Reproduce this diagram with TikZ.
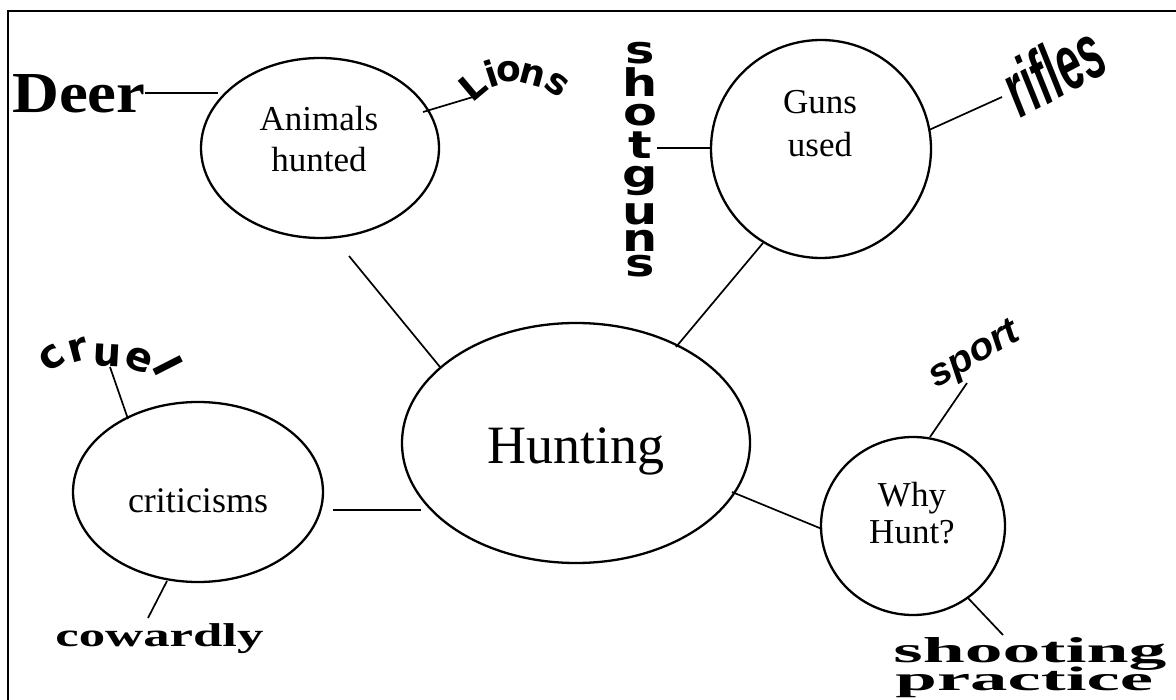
\documentclass[tikz,border=0pt]{standalone}
\usepackage{fontspec}
\setmainfont{Liberation Serif}
\newfontfamily\wa{Liberation Sans}
\newfontfamily\djvsans{DejaVu Sans}
\usetikzlibrary{shapes.geometric}
\tikzset{
  conn/.style={line width=1.7pt},
  bub/.style={draw, ellipse, line width=2.3pt, inner sep=0pt},
  lbl/.style={inner sep=0pt, anchor=base, font=\fontsize{35}{40}\selectfont},
  heavy/.style={inner sep=0pt, font=\djvsans\bfseries\fontsize{36}{40}\selectfont},
  shot/.style={inner sep=0pt, xscale=1.3, font=\djvsans\bfseries\fontsize{38}{40}\selectfont},
  wide/.style={inner sep=0pt, anchor=base west, font=\bfseries\fontsize{36}{40}\selectfont}
}
\begin{document}
\begin{tikzpicture}[x=1pt,y=-1pt]
\useasboundingbox (0,0) rectangle (1176,700);
\clip (0,0) rectangle (1176,700);
\fill[white] (0,0) rectangle (1176,700);
\draw[line width=1.5pt] (8,11) rectangle (1200,720);

% bubbles
\node[bub, minimum width=238, minimum height=180] (anim) at (320,148) {};
\node[bub, minimum width=220, minimum height=218] (guns) at (821,149) {};
\node[bub, minimum width=348, minimum height=240] (hunt) at (576,443) {};
\node[bub, minimum width=250, minimum height=180] (crit) at (198,492) {};
\node[bub, minimum width=184, minimum height=178] (why) at (913,526) {};

% bubble texts
\node[lbl] (animA) at (319,131) {Animals};
\node[lbl] (animB) at (319,172) {hunted};
\node[lbl] (gunsA) at (820,114) {Guns};
\node[lbl] (gunsB) at (820,157) {used};
\node[lbl, font=\fontsize{54}{60}\selectfont] (huntT) at (576,464) {Hunting};
\node[lbl, font=\fontsize{36}{40}\selectfont] (critT) at (198,512) {criticisms};
\node[lbl] (whyA) at (912,507) {Why};
\node[lbl] (whyB) at (912,543) {Hunt?};

% word-art labels
\node[inner sep=0pt, anchor=base west, xscale=1.12, font=\bfseries\fontsize{58}{60}\selectfont] (deer) at (12,113) {Deer};

\node[heavy, rotate=40] (lionL) at (473,86) {L};
\node[heavy, rotate=18] (lionI) at (491,74) {i};
\node[heavy, rotate=0] (lionO) at (509,72) {o};
\node[heavy, rotate=-15] (lionN) at (532,75) {n};
\node[heavy, rotate=-35] (lionS) at (557,85) {s};

\node[shot] (sg1) at (640,53) {s};
\node[shot] (sg2) at (640,82) {h};
\node[shot] (sg3) at (640,115) {o};
\node[shot] (sg4) at (640,145) {t};
\node[shot] (sg5) at (640,181) {g};
\node[shot] (sg6) at (640,214) {u};
\node[shot] (sg7) at (640,241) {n};
\node[shot] (sg8) at (640,266) {s};

\node[inner sep=0pt, rotate=28, xscale=0.55, font=\wa\bfseries\itshape\fontsize{78}{80}\selectfont] (rifles) at (1053,70) {rifles};
\node[inner sep=0pt, rotate=30, xscale=1.05, font=\wa\bfseries\itshape\fontsize{38}{40}\selectfont] (sport) at (975,356) {sport};

\node[heavy, rotate=35, font=\djvsans\bfseries\fontsize{40}{40}\selectfont] (cr1) at (52,358) {c};
\node[heavy, rotate=15, font=\djvsans\bfseries\fontsize{40}{40}\selectfont] (cr2) at (78,350) {r};
\node[heavy, rotate=-3, font=\djvsans\bfseries\fontsize{40}{40}\selectfont] (cr3) at (107,356) {u};
\node[heavy, rotate=-20, font=\djvsans\bfseries\fontsize{40}{40}\selectfont] (cr4) at (139,360) {e};
\node[heavy, rotate=-63, font=\djvsans\bfseries\fontsize{40}{40}\selectfont] (cr5) at (168,366) {l};

\node[inner sep=0pt, anchor=base west, xscale=1.6, font=\bfseries\fontsize{33}{36}\selectfont] (coward) at (55,646) {cowardly};
\node[wide, xscale=2.1] (shoot) at (893,662) {shooting};
\node[wide, xscale=2.2, font=\bfseries\fontsize{34}{36}\selectfont] (pract) at (895,690) {practice};

% connector ends
\coordinate (deerE) at (145,93);   \coordinate (animW) at (218,93);
\coordinate (animNE) at (423,112); \coordinate (lionE) at (473,97);
\coordinate (shotE) at (657,148);  \coordinate (gunsW) at (711,148);
\coordinate (gunsE) at (929,130);  \coordinate (rifE) at (1002,97);
\coordinate (gunsS) at (763,243);  \coordinate (huntNE) at (676,347);
\coordinate (animS) at (349,256);  \coordinate (huntNW) at (440,367);
\coordinate (critE) at (333,510);  \coordinate (huntW) at (421,510);
\coordinate (huntSE) at (732,492); \coordinate (whyW) at (822,529);
\coordinate (cruelE) at (110,367); \coordinate (critN) at (128,419);
\coordinate (critS) at (167,581);  \coordinate (cowE) at (148,618);
\coordinate (sportE) at (967,383); \coordinate (whyN) at (930,437);
\coordinate (whyS) at (968,598);   \coordinate (shootE) at (1003,635);

\draw[conn] (deerE) -- (animW);
\draw[conn] (animNE) -- (lionE);
\draw[conn] (shotE) -- (gunsW);
\draw[conn] (gunsE) -- (rifE);
\draw[conn] (gunsS) -- (huntNE);
\draw[conn] (animS) -- (huntNW);
\draw[conn] (critE) -- (huntW);
\draw[conn] (huntSE) -- (whyW);
\draw[conn] (cruelE) -- (critN);
\draw[conn] (critS) -- (cowE);
\draw[conn] (sportE) -- (whyN);
\draw[conn] (whyS) -- (shootE);
\end{tikzpicture}
\end{document}
